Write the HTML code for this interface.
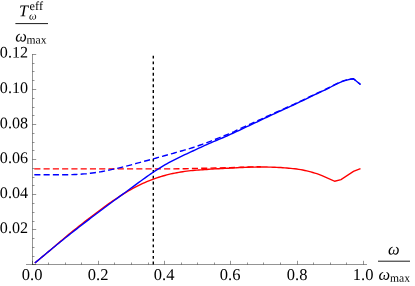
<!DOCTYPE html>
<html><head><meta charset="utf-8"><title>plot</title>
<style>
html,body{margin:0;padding:0;background:#fff;}
body{width:415px;height:286px;overflow:hidden;}
svg{display:block;will-change:transform;}
text{text-rendering:geometricPrecision;font-family:"Liberation Serif",serif;fill:#000;}
</style></head><body>
<svg width="415" height="286" viewBox="0 0 415 286">
<rect width="415" height="286" fill="#fff"/>
<g stroke="#000" stroke-opacity="0.42" stroke-width="1">
<line x1="26" y1="264.5" x2="367" y2="264.5"/>
<line x1="32.5" y1="54.0" x2="32.5" y2="265.0"/>
<line x1="32.5" y1="264.5" x2="32.5" y2="260.8"/>
<line x1="48.5" y1="264.5" x2="48.5" y2="262.5"/>
<line x1="65.5" y1="264.5" x2="65.5" y2="262.5"/>
<line x1="81.5" y1="264.5" x2="81.5" y2="262.5"/>
<line x1="98.5" y1="264.5" x2="98.5" y2="260.8"/>
<line x1="114.5" y1="264.5" x2="114.5" y2="262.5"/>
<line x1="131.5" y1="264.5" x2="131.5" y2="262.5"/>
<line x1="148.5" y1="264.5" x2="148.5" y2="262.5"/>
<line x1="164.5" y1="264.5" x2="164.5" y2="260.8"/>
<line x1="181.5" y1="264.5" x2="181.5" y2="262.5"/>
<line x1="197.5" y1="264.5" x2="197.5" y2="262.5"/>
<line x1="214.5" y1="264.5" x2="214.5" y2="262.5"/>
<line x1="230.5" y1="264.5" x2="230.5" y2="260.8"/>
<line x1="247.5" y1="264.5" x2="247.5" y2="262.5"/>
<line x1="263.5" y1="264.5" x2="263.5" y2="262.5"/>
<line x1="280.5" y1="264.5" x2="280.5" y2="262.5"/>
<line x1="297.5" y1="264.5" x2="297.5" y2="260.8"/>
<line x1="313.5" y1="264.5" x2="313.5" y2="262.5"/>
<line x1="330.5" y1="264.5" x2="330.5" y2="262.5"/>
<line x1="346.5" y1="264.5" x2="346.5" y2="262.5"/>
<line x1="363.5" y1="264.5" x2="363.5" y2="260.8"/>
<line x1="32.5" y1="264.5" x2="36.2" y2="264.5"/>
<line x1="32.5" y1="256.5" x2="34.5" y2="256.5"/>
<line x1="32.5" y1="247.5" x2="34.5" y2="247.5"/>
<line x1="32.5" y1="238.5" x2="34.5" y2="238.5"/>
<line x1="32.5" y1="229.5" x2="36.2" y2="229.5"/>
<line x1="32.5" y1="221.5" x2="34.5" y2="221.5"/>
<line x1="32.5" y1="212.5" x2="34.5" y2="212.5"/>
<line x1="32.5" y1="203.5" x2="34.5" y2="203.5"/>
<line x1="32.5" y1="194.5" x2="36.2" y2="194.5"/>
<line x1="32.5" y1="185.5" x2="34.5" y2="185.5"/>
<line x1="32.5" y1="177.5" x2="34.5" y2="177.5"/>
<line x1="32.5" y1="168.5" x2="34.5" y2="168.5"/>
<line x1="32.5" y1="159.5" x2="36.2" y2="159.5"/>
<line x1="32.5" y1="150.5" x2="34.5" y2="150.5"/>
<line x1="32.5" y1="142.5" x2="34.5" y2="142.5"/>
<line x1="32.5" y1="133.5" x2="34.5" y2="133.5"/>
<line x1="32.5" y1="124.5" x2="36.2" y2="124.5"/>
<line x1="32.5" y1="115.5" x2="34.5" y2="115.5"/>
<line x1="32.5" y1="107.5" x2="34.5" y2="107.5"/>
<line x1="32.5" y1="98.5" x2="34.5" y2="98.5"/>
<line x1="32.5" y1="89.5" x2="36.2" y2="89.5"/>
<line x1="32.5" y1="80.5" x2="34.5" y2="80.5"/>
<line x1="32.5" y1="71.5" x2="34.5" y2="71.5"/>
<line x1="32.5" y1="63.5" x2="34.5" y2="63.5"/>
<line x1="32.5" y1="54.5" x2="36.2" y2="54.5"/>
</g>
<line x1="153.3" y1="55.7" x2="153.3" y2="264.90000000000003" stroke="#000" stroke-width="1.4" stroke-dasharray="2.86 2.86"/>
<path d="M34.30,168.90 L170.00,168.90 L185.00,168.70 L200.00,168.35 L215.00,168.00 L230.00,167.60 L236.80,167.51 L238.80,167.41 L240.80,167.31 L242.80,167.22 L244.80,167.13 L246.80,167.05 L248.80,166.98 L250.80,166.92 L252.80,166.87 L254.80,166.83 L256.80,166.80 L258.80,166.77 L260.80,166.76" fill="none" stroke="#f00" stroke-width="1.4" stroke-dasharray="6.12 3.15"/>
<path d="M34.30,174.75 L36.30,174.76 L38.30,174.77 L40.30,174.78 L42.30,174.79 L44.30,174.79 L46.30,174.80 L48.30,174.80 L50.30,174.80 L52.30,174.80 L54.30,174.80 L56.30,174.79 L58.30,174.78 L60.30,174.78 L62.30,174.77 L64.30,174.75 L66.30,174.74 L68.30,174.70 L70.30,174.65 L72.30,174.58 L74.30,174.50 L76.30,174.43 L78.30,174.33 L80.30,174.21 L82.30,174.06 L84.30,173.91 L86.30,173.73 L88.30,173.50 L90.30,173.25 L92.30,173.00 L94.30,172.74 L96.30,172.46 L98.30,172.17 L100.30,171.85 L102.30,171.49 L104.30,171.09 L106.30,170.68 L108.30,170.28 L110.30,169.86 L112.30,169.43 L114.30,169.00 L116.30,168.56 L118.30,168.11 L120.30,167.65 L122.30,167.17 L124.30,166.67 L126.30,166.15 L128.30,165.61 L130.30,165.06 L132.30,164.52 L134.30,163.96 L136.30,163.41 L138.30,162.85 L140.30,162.31 L142.30,161.78 L144.30,161.25 L146.30,160.73 L148.30,160.20 L150.30,159.66 L152.30,159.11 L154.30,158.55 L156.30,157.99 L158.30,157.43 L160.30,156.87 L162.30,156.32 L164.30,155.76 L166.30,155.21 L168.30,154.66 L170.30,154.11 L172.30,153.55 L174.30,152.99 L176.30,152.43 L178.30,151.86 L180.30,151.29 L182.30,150.72 L184.30,150.14 L186.30,149.56 L188.30,148.96 L190.30,148.36 L192.30,147.74 L194.30,147.10 L196.30,146.43 L198.30,145.72 L200.30,145.02 L202.30,144.31 L204.30,143.59 L206.30,142.86 L208.30,142.11 L210.30,141.35 L212.30,140.57 L214.30,139.78 L216.30,138.98 L218.30,138.18 L220.30,137.38 L222.30,136.58 L224.30,135.77 L226.30,134.97 L228.30,134.16 L230.30,133.34 L232.30,132.52 L234.30,131.70 L236.80,130.11 L238.80,129.24 L240.80,128.35 L242.80,127.45 L244.80,126.56 L246.80,125.66 L248.80,124.77 L250.80,123.86 L252.80,122.95 L254.80,122.03 L256.80,121.11 L258.80,120.19 L260.80,119.27 L262.80,118.35 L264.80,117.43 L266.80,116.50 L268.80,115.59 L270.80,114.69 L272.80,113.80 L274.80,112.90 L276.80,112.00 L278.80,111.10 L280.80,110.20 L282.80,109.30 L284.80,108.40 L286.80,107.50 L288.80,106.59 L290.80,105.68 L292.80,104.77 L294.80,103.86 L296.80,102.92 L298.80,101.98 L300.80,101.03 L302.80,100.08 L304.80,99.12 L306.80,98.17 L308.80,97.21 L310.80,96.24 L312.80,95.27 L314.80,94.30 L316.80,93.37 L318.80,92.45 L320.80,91.53 L322.80,90.60 L324.80,89.67 L326.80,88.68 L328.80,87.68 L330.80,86.67 L332.80,85.66 L334.80,84.65 L338.50,82.79 L341.30,81.63 L344.00,80.70 L346.70,79.95 L350.00,79.19 L353.40,78.70 L360.50,84.50" fill="none" stroke="#00f" stroke-width="1.4" stroke-dasharray="6.12 3.15"/>
<path d="M34.80,263.04 L36.80,261.37 L38.80,259.70 L40.80,258.03 L42.80,256.36 L44.80,254.70 L46.80,253.03 L48.80,251.37 L50.80,249.68 L52.80,247.96 L54.80,246.25 L56.80,244.54 L58.80,242.84 L60.80,241.13 L62.80,239.43 L64.80,237.74 L66.80,236.04 L68.80,234.35 L70.80,232.70 L72.80,231.11 L74.80,229.52 L76.80,227.94 L78.80,226.36 L80.80,224.78 L82.80,223.20 L84.80,221.63 L86.80,220.09 L88.80,218.57 L90.80,217.04 L92.80,215.52 L94.80,214.00 L96.80,212.48 L98.80,210.97 L100.80,209.47 L102.80,207.97 L104.80,206.48 L106.80,205.08 L108.80,203.69 L110.80,202.31 L112.80,200.93 L114.80,199.55 L116.80,198.22 L118.80,196.89 L120.80,195.57 L122.80,194.31 L124.80,193.07 L126.80,191.87 L128.80,190.69 L130.80,189.55 L132.80,188.44 L134.80,187.37 L136.80,186.33 L138.80,185.33 L140.80,184.36 L142.80,183.43 L144.80,182.54 L146.80,181.69 L148.80,180.87 L150.80,180.08 L152.80,179.32 L154.80,178.60 L156.80,177.91 L158.80,177.26 L160.80,176.63 L162.80,176.03 L164.80,175.46 L166.80,174.92 L168.80,174.40 L170.80,173.91 L172.80,173.46 L174.80,173.07 L176.80,172.69 L178.80,172.34 L180.80,172.01 L182.80,171.70 L184.80,171.42 L186.80,171.15 L188.80,170.90 L190.80,170.67 L192.80,170.47 L194.80,170.28 L196.80,170.12 L198.80,169.97 L200.80,169.83 L202.80,169.71 L204.80,169.59 L206.80,169.44 L208.80,169.30 L210.80,169.16 L212.80,169.03 L214.80,168.91 L216.80,168.80 L218.80,168.69 L220.80,168.58 L222.80,168.48 L224.80,168.38 L226.80,168.29 L228.80,168.19 L230.80,168.09 L232.80,167.98 L234.80,167.86 L236.80,167.76 L238.80,167.66 L240.80,167.56 L242.80,167.47 L244.80,167.38 L246.80,167.30 L248.80,167.23 L250.80,167.17 L252.80,167.12 L254.80,167.08 L256.80,167.05 L258.80,167.02 L260.80,167.01 L262.80,167.01 L264.80,167.02 L266.80,167.05 L268.80,167.09 L270.80,167.13 L272.80,167.19 L274.80,167.27 L276.80,167.35 L278.80,167.46 L280.80,167.57 L282.80,167.71 L284.80,167.86 L286.80,168.04 L288.80,168.21 L290.80,168.39 L292.80,168.59 L294.80,168.81 L296.80,169.06 L298.80,169.34 L300.80,169.67 L302.80,170.05 L304.80,170.47 L306.80,170.92 L308.80,171.40 L310.80,171.92 L312.80,172.47 L314.80,173.06 L316.80,173.69 L318.80,174.36 L322.00,175.55 L334.80,181.30 L341.00,179.60 L353.45,171.35 L360.50,168.70" fill="none" stroke="#f00" stroke-width="1.4" stroke-linejoin="miter" stroke-miterlimit="6"/>
<path d="M34.80,263.04 L36.80,261.37 L38.80,259.70 L40.80,258.03 L42.80,256.36 L44.80,254.70 L46.80,253.03 L48.80,251.37 L50.80,249.71 L52.80,248.07 L54.80,246.44 L56.80,244.81 L58.80,243.19 L60.80,241.57 L62.80,239.95 L64.80,238.33 L66.80,236.71 L68.80,235.10 L70.80,233.51 L72.80,231.95 L74.80,230.39 L76.80,228.83 L78.80,227.27 L80.80,225.72 L82.80,224.17 L84.80,222.63 L86.80,221.09 L88.80,219.57 L90.80,218.04 L92.80,216.52 L94.80,215.00 L96.80,213.48 L98.80,211.97 L100.80,210.47 L102.80,208.97 L104.80,207.48 L106.80,205.99 L108.80,204.50 L110.80,203.02 L112.80,201.54 L114.80,200.06 L116.80,198.59 L118.80,197.12 L120.80,195.65 L122.80,194.19 L124.80,192.72 L126.80,191.24 L128.80,189.76 L130.80,188.29 L132.80,186.82 L134.80,185.35 L136.80,183.89 L138.80,182.43 L140.80,180.97 L142.80,179.52 L144.80,178.08 L146.80,176.65 L148.80,175.24 L150.80,173.85 L152.80,172.48 L154.80,171.14 L156.80,169.82 L158.80,168.55 L160.80,167.31 L162.80,166.11 L164.80,164.94 L166.80,163.81 L168.80,162.72 L170.80,161.65 L172.80,160.60 L174.80,159.58 L176.80,158.58 L178.80,157.60 L180.80,156.63 L182.80,155.68 L184.80,154.73 L186.80,153.79 L188.80,152.86 L190.80,151.93 L192.80,151.00 L194.80,150.07 L196.80,149.14 L198.80,148.22 L200.80,147.29 L202.80,146.37 L204.80,145.45 L206.80,144.53 L208.80,143.64 L210.80,142.80 L212.80,141.95 L214.80,141.11 L216.80,140.27 L218.80,139.42 L220.80,138.58 L222.80,137.74 L224.80,136.90 L226.80,136.00 L228.80,135.09 L230.80,134.17 L232.80,133.26 L234.80,132.35 L236.80,131.44 L238.80,130.52 L240.80,129.58 L242.80,128.63 L244.80,127.69 L246.80,126.74 L248.80,125.80 L250.80,124.85 L252.80,123.91 L254.80,122.96 L256.80,122.01 L258.80,121.06 L260.80,120.11 L262.80,119.16 L264.80,118.20 L266.80,117.25 L268.80,116.31 L270.80,115.38 L272.80,114.46 L274.80,113.53 L276.80,112.60 L278.80,111.67 L280.80,110.75 L282.80,109.84 L284.80,108.93 L286.80,108.01 L288.80,107.10 L290.80,106.18 L292.80,105.26 L294.80,104.34 L296.80,103.39 L298.80,102.43 L300.80,101.47 L302.80,100.51 L304.80,99.55 L306.80,98.58 L308.80,97.61 L310.80,96.64 L312.80,95.66 L314.80,94.68 L316.80,93.75 L318.80,92.82 L320.80,91.89 L322.80,90.96 L324.80,90.02 L326.80,89.02 L328.80,88.01 L330.80,87.00 L332.80,85.99 L334.80,84.97 L338.50,83.10 L341.30,81.90 L344.00,80.90 L346.70,80.08 L350.00,79.24 L353.40,78.70 L360.50,84.50" fill="none" stroke="#00f" stroke-width="1.4" stroke-linejoin="miter" stroke-miterlimit="6"/>
<text transform="rotate(0.05 28.0 233.10)" x="28.0" y="233.10" text-anchor="end" font-size="16.1">0.02</text>
<text transform="rotate(0.05 28.0 198.00)" x="28.0" y="198.00" text-anchor="end" font-size="16.1">0.04</text>
<text transform="rotate(0.05 28.0 163.00)" x="28.0" y="163.00" text-anchor="end" font-size="16.1">0.06</text>
<text transform="rotate(0.05 28.0 128.30)" x="28.0" y="128.30" text-anchor="end" font-size="16.1">0.08</text>
<text transform="rotate(0.05 28.0 93.10)" x="28.0" y="93.10" text-anchor="end" font-size="16.1">0.10</text>
<text transform="rotate(0.05 28.0 57.60)" x="28.0" y="57.60" text-anchor="end" font-size="16.1">0.12</text>
<text transform="rotate(0.05 32.10 280.1)" x="32.10" y="280.1" text-anchor="middle" font-size="16.5">0.0</text>
<text transform="rotate(0.05 98.10 280.1)" x="98.10" y="280.1" text-anchor="middle" font-size="16.5">0.2</text>
<text transform="rotate(0.05 164.10 280.1)" x="164.10" y="280.1" text-anchor="middle" font-size="16.5">0.4</text>
<text transform="rotate(0.05 230.10 280.1)" x="230.10" y="280.1" text-anchor="middle" font-size="16.5">0.6</text>
<text transform="rotate(0.05 297.10 280.1)" x="297.10" y="280.1" text-anchor="middle" font-size="16.5">0.8</text>
<text transform="rotate(0.05 363.10 280.1)" x="363.10" y="280.1" text-anchor="middle" font-size="16.5">1.0</text>
<text transform="rotate(0.05 19.0 16.2)" x="19.0" y="16.2" font-size="16.3" font-style="italic">T</text>
<text transform="rotate(0.05 29.6 9.9)" x="29.6" y="9.9" font-size="12.3">eff</text>
<text transform="rotate(0.05 28.9 19.5)" x="28.9" y="19.5" font-size="10.8" font-style="italic">ω</text>
<line x1="15.4" y1="23.6" x2="48" y2="23.6" stroke="#000" stroke-width="0.9"/>
<text transform="rotate(0.05 15.3 41.4)" x="15.3" y="41.4" font-size="16.4" font-style="italic">ω</text>
<text transform="rotate(0.05 26.6 43.6)" x="26.6" y="43.6" font-size="11.6">max</text>
<text transform="rotate(0.05 388 254.6)" x="388" y="254.6" font-size="16.4" font-style="italic">ω</text>
<line x1="378" y1="261.2" x2="410" y2="261.2" stroke="#000" stroke-width="0.9"/>
<text transform="rotate(0.05 378.6 279.7)" x="378.6" y="279.7" font-size="16.4" font-style="italic">ω</text>
<text transform="rotate(0.05 390 281.8)" x="390" y="281.8" font-size="11.6">max</text>
</svg>
</body></html>
